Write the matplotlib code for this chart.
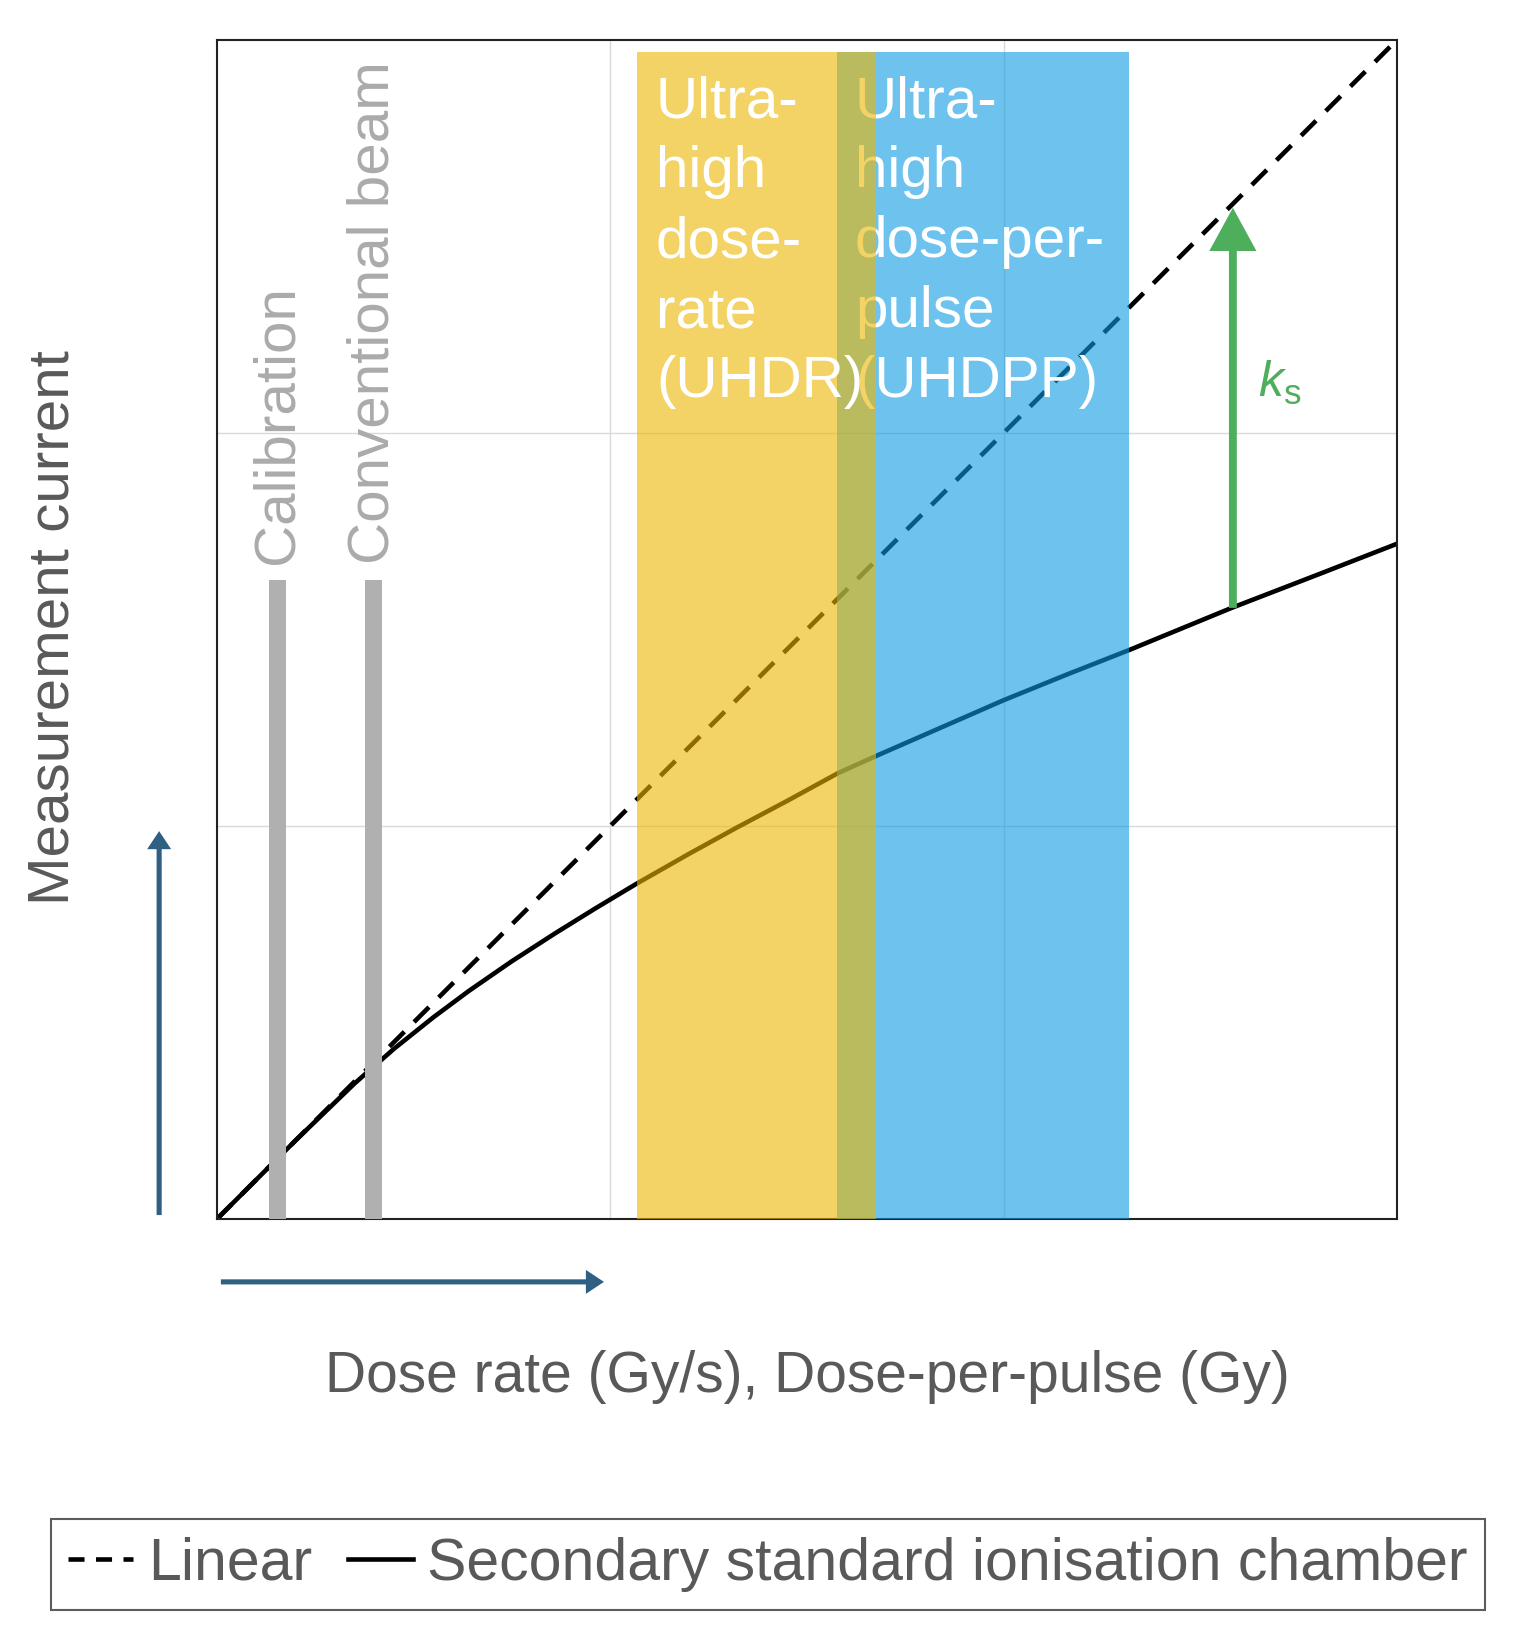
import numpy as np
import matplotlib.pyplot as plt
from matplotlib.lines import Line2D

plt.rcParams['font.family'] = ['Liberation Sans', 'DejaVu Sans']
plt.rcParams['mathtext.fontset'] = 'custom'
plt.rcParams['mathtext.it'] = 'Liberation Sans:italic'
plt.rcParams['mathtext.rm'] = 'Liberation Sans'

# curves (arbitrary units)
linear_dose = [0, 3]
linear_current = [0, 3]
dose = [0, 0.2, 0.35, 0.45, 0.55, 0.64, 0.75, 0.86, 0.96, 1.07, 1.2, 1.32, 1.45,
        1.58, 1.68, 1.84, 2.0, 2.16, 2.32, 2.58, 2.8, 3.0]
chamber_current = [0, 0.2, 0.345, 0.433, 0.513, 0.58, 0.656, 0.727, 0.789, 0.855, 0.929,
                   0.995, 1.064, 1.135, 1.18, 1.25, 1.32, 1.385, 1.448, 1.555, 1.64, 1.718]

# shaded regimes
uhdr_range = (1.068, 1.675)
uhdpp_range = (1.576, 2.318)
band_top = 2.97
uhdr_text = "Ultra-\nhigh\ndose-\nrate\n(UHDR)"
uhdpp_text = "Ultra-\nhigh\ndose-per-\npulse\n(UHDPP)"

# reference beams
beam_labels = ["Calibration", "Conventional beam"]
beam_dose = [0.155, 0.397]
beam_height = 1.625

# k_s arrow
ks_dose = 2.583
ks_from = 1.555
ks_to = 2.573

grey_text = '#595959'
green = '#4DAF5B'
dark_blue = '#2F5F82'

fig = plt.figure(figsize=(15.3, 16.38), dpi=100)
ax = fig.add_axes([0.1418, 0.2558, 0.7712, 0.7198])
ax.set_xlim(0, 3)
ax.set_ylim(0, 3)
ax.set_xticks([1, 2])
ax.set_yticks([1, 2])
ax.tick_params(length=0, labelbottom=False, labelleft=False)
ax.grid(True, color='#D9D9D9', lw=1.0, zorder=0)
ax.set_axisbelow(True)
for s in ax.spines.values():
    s.set_linewidth(1.5)
    s.set_color('#222222')

ax.plot(linear_dose, linear_current, color='black', lw=3.3, dashes=(4.6, 3), zorder=2)
ax.plot(dose, chamber_current, color='black', lw=3.3, zorder=2, solid_joinstyle='round')

# blue band first, then yellow on top (gives the olive overlap)
ax.fill_between(uhdpp_range, 0, band_top, color='#0D9BE3', alpha=0.6, lw=0, zorder=3)
ax.text(1.622, 2.91, uhdpp_text, color='white', fontsize=42, ha='left', va='top',
        linespacing=1.38, zorder=4)
ax.fill_between(uhdr_range, 0, band_top, color='#EEB600', alpha=0.6, lw=0, zorder=5)
ax.text(1.116, 2.91, uhdr_text, color='white', fontsize=42, ha='left', va='top',
        linespacing=1.38, zorder=6)

ax.bar(beam_dose, [beam_height] * len(beam_dose), width=0.043, color='#B0B0B0', zorder=7)
for x, lab in zip(beam_dose, beam_labels):
    ax.text(x, beam_height + 0.042, lab, rotation=90, ha='center', va='bottom',
            fontsize=42, color='#ABABAB', zorder=7)

ax.arrow(ks_dose, ks_from, 0, ks_to - ks_from, width=0.02, head_width=0.12,
         head_length=0.11, length_includes_head=True, color=green, lw=0, zorder=8)
ax.text(2.647, 2.127, r'$k_{\mathrm{s}}$', color=green, fontsize=36, ha='left', va='center')

# direction arrows outside the axes
ax.arrow(-0.147, 0.01, 0, 0.977, width=0.013, head_width=0.061, head_length=0.046,
         length_includes_head=True, color=dark_blue, lw=0, clip_on=False)
ax.arrow(0.01, -0.16, 0.974, 0, width=0.013, head_width=0.061, head_length=0.046,
         length_includes_head=True, color=dark_blue, lw=0, clip_on=False)

fig.text(54 / 1530, 0.6166, "Measurement current", rotation=90, ha='center', va='center',
         fontsize=42, color=grey_text)
fig.text(0.5275, 0.1593, "Dose rate (Gy/s), Dose-per-pulse (Gy)", ha='center', va='center',
         fontsize=41, color=grey_text)

handles = [Line2D([], [], color='black', lw=3.3, dashes=(3.5, 2.5)),
           Line2D([], [], color='black', lw=3.3)]
leg = fig.legend(handles, ["Linear", "Secondary standard ionisation chamber"],
                 loc='center', bbox_to_anchor=(0.502, 0.0449), ncol=2, fontsize=42.5,
                 frameon=True, fancybox=False, edgecolor='#333333', labelcolor=grey_text,
                 handlelength=1.1, handletextpad=0.25, columnspacing=0.6, borderpad=0.3)
leg.get_frame().set_linewidth(1.5)

fig.savefig('out.png', dpi=100)
